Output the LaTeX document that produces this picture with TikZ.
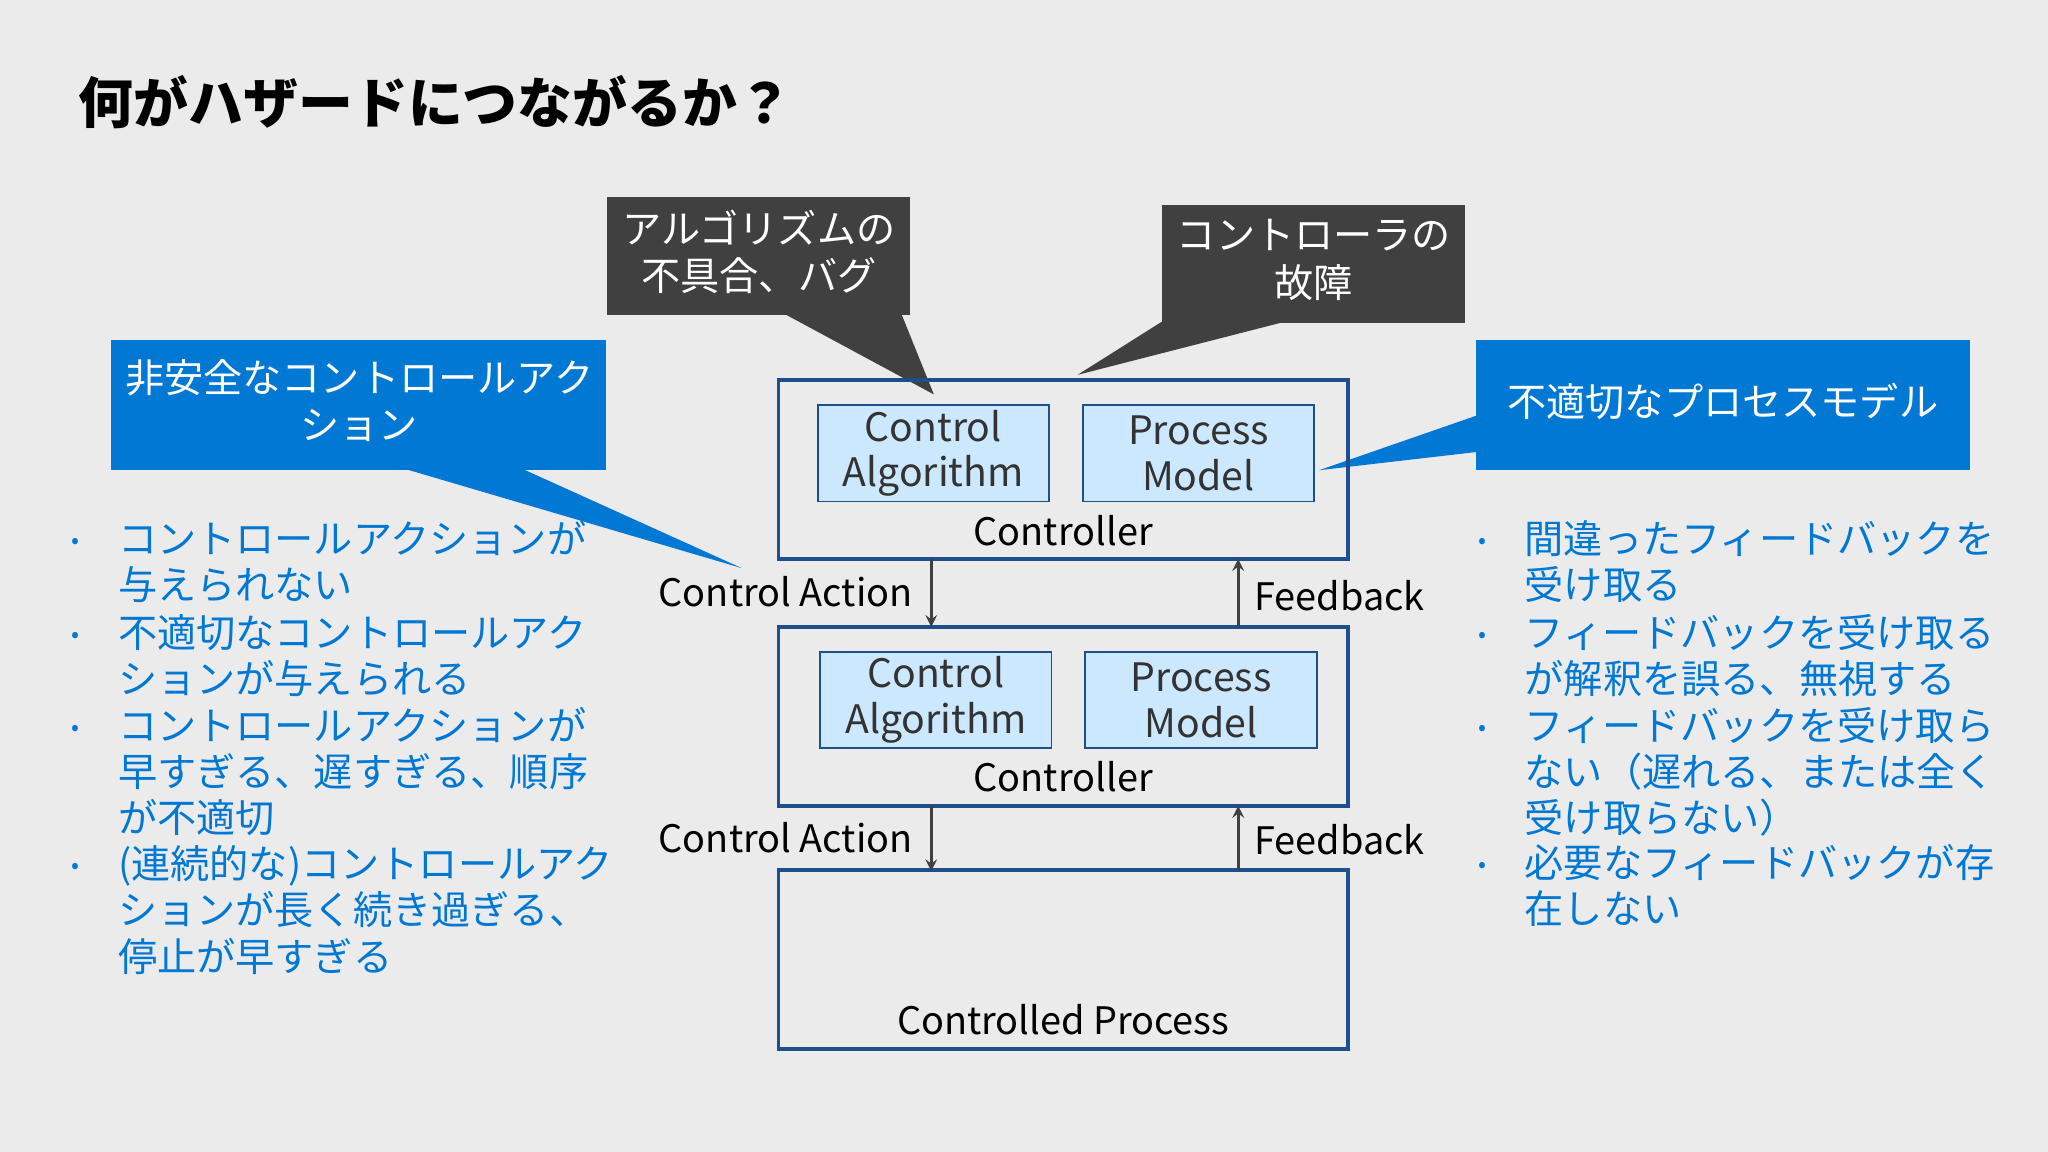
\documentclass[tikz,border=0pt]{standalone}
\usepackage{fontspec}
\setmainfont{Noto Sans CJK JP}
\usetikzlibrary{calc}
\definecolor{bg}{HTML}{EBEBEB}
\definecolor{msblue}{HTML}{0078D4}
\definecolor{darkbox}{HTML}{404040}
\definecolor{boxline}{HTML}{1F4E8C}
\definecolor{innerfill}{HTML}{CCE8FF}
\tikzset{
  callout/.style={inner sep=0pt,align=center,text=white,font=\fontsize{15}{18}\selectfont},
  ctrl/.style={draw=boxline,line width=1.5pt,inner sep=0pt},
  inner/.style={draw=boxline,fill=innerfill,line width=0.7pt,align=center,inner sep=0pt,
    minimum width=88.5pt,minimum height=37pt,font=\fontsize{15}{17.5}\selectfont,text=darkbox!80!black},
  lbl/.style={font=\fontsize{14.5}{17}\selectfont,inner sep=0pt},
  flow/.style={->,>=stealth,line width=1pt,draw=darkbox},
  bullets/.style={anchor=north west,align=left,inner sep=0pt,text=msblue,font=\fontsize{15}{17.7}\selectfont}
}
\begin{document}
\begin{tikzpicture}[x=0.5pt,y=-0.5pt]
  \fill[bg] (0,0) rectangle (1568,882);
  \useasboundingbox (0,0) rectangle (1568,882);

  \node (title) at (60,78) [anchor=west,inner sep=0pt,font=\fontsize{21}{24}\selectfont\bfseries] {何がハザードにつながるか？};

  % callouts
  \fill[darkbox] (465,151) rectangle (697,241);
  \node (c1) at (581,193) [callout] {アルゴリズムの\\不具合、バグ};
  \coordinate (t1) at (715,302);
  \fill[darkbox] (600,240) -- (t1) -- (690,240) -- cycle;

  \fill[darkbox] (890,157) rectangle (1122,247);
  \node (c2) at (1006,199) [callout] {コントローラの\\故障};
  \coordinate (t2) at (825,287);
  \fill[darkbox] (890,246) -- (t2) -- (985,246) -- cycle;

  \fill[msblue] (85,260) rectangle (464,360);
  \node (c3) at (275,307) [callout] {非安全なコントロールアク\\ション};
  \coordinate (t3) at (568,435);
  \fill[msblue] (310,359) -- (t3) -- (400,359) -- cycle;

  \fill[msblue] (1130,260) rectangle (1508,360);
  \node (c4) at (1319,307) [callout] {不適切なプロセスモデル};
  \coordinate (t4) at (1010,360);
  \fill[msblue] (1131,318) -- (t4) -- (1131,346) -- cycle;

  % controllers
  \draw[ctrl] (596,291) rectangle (1032,428);
  \node (ca1) at (714.5,347) [inner] {Control\\Algorithm};
  \node (pm1) at (917.5,347) [inner] {Process\\Model};
  \node (ctl1) at (814,406) [lbl] {Controller};

  \draw[ctrl] (596,480) rectangle (1032,617);
  \node (ca2) at (716.5,536) [inner] {Control\\Algorithm};
  \node (pm2) at (919.5,536) [inner] {Process\\Model};
  \node (ctl2) at (814,595) [lbl] {Controller};

  \draw[ctrl] (596,666) rectangle (1032,803);
  \node (cp) at (814,781) [lbl] {Controlled Process};

  \coordinate (a1) at (713,428); \coordinate (a2) at (713,480);
  \coordinate (f1) at (948,480); \coordinate (f2) at (948,428);
  \coordinate (a3) at (713,617); \coordinate (a4) at (713,667);
  \coordinate (f3) at (948,667); \coordinate (f4) at (948,617);
  \draw[flow] (a1) -- (a2);
  \draw[flow] (f1) -- (f2);
  \draw[flow] (a3) -- (a4);
  \draw[flow] (f3) -- (f4);
  \node at (699,453) [lbl,anchor=east] {Control Action};
  \node at (960,456) [lbl,anchor=west] {Feedback};
  \node at (699,641) [lbl,anchor=east] {Control Action};
  \node at (960,643) [lbl,anchor=west] {Feedback};

  % bullet lists
  \foreach \y in {416,488,559,665} \node at (58,\y) [text=msblue,font=\small] {•};
  \node (l1) at (90,398) [bullets] {コントロールアクションが\\与えられない};
  \node (l2) at (90,470) [bullets] {不適切なコントロールアク\\ションが与えられる};
  \node (l3) at (90,541) [bullets] {コントロールアクションが\\早すぎる、遅すぎる、順序\\が不適切};
  \node (l4) at (90,647) [bullets] {(連続的な)コントロールアク\\ションが長く続き過ぎる、\\停止が早すぎる};

  \foreach \y in {416,488,559,664} \node at (1135,\y) [text=msblue,font=\small] {•};
  \node (r1) at (1167,398) [bullets] {間違ったフィードバックを\\受け取る};
  \node (r2) at (1167,470) [bullets] {フィードバックを受け取る\\が解釈を誤る、無視する};
  \node (r3) at (1167,541) [bullets] {フィードバックを受け取ら\\ない（遅れる、または全く\\受け取らない）};
  \node (r4) at (1167,646) [bullets] {必要なフィードバックが存\\在しない};
\end{tikzpicture}
\end{document}
